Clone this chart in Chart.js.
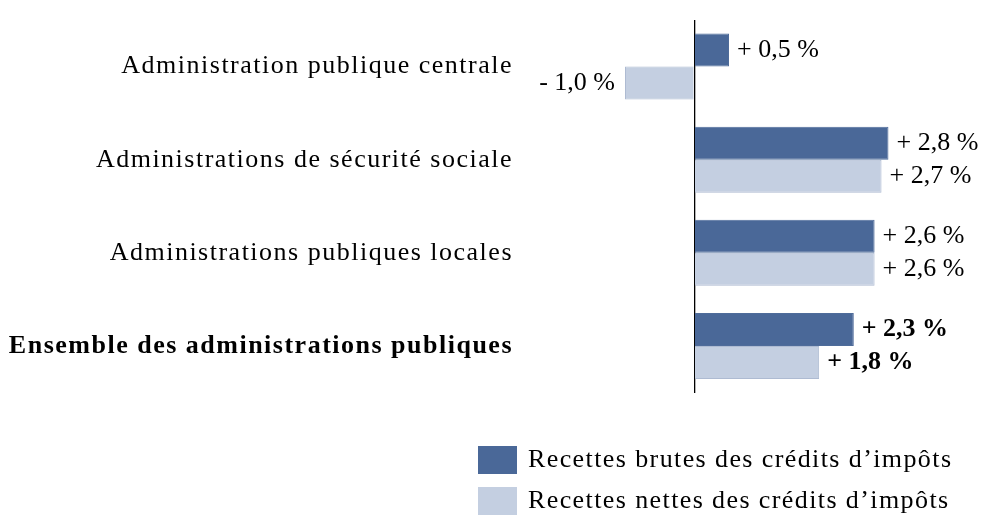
<!DOCTYPE html>
<html>
<head>
<meta charset="utf-8">
<script src="https://cdn.jsdelivr.net/npm/chart.js@4.4.1/dist/chart.umd.min.js"></script>
<style>
  html, body { margin: 0; padding: 0; background: #fff; }
  #wrap { width: 981px; height: 515px; position: relative; }
</style>
</head>
<body>
<div id="wrap"><canvas id="chart" width="981" height="515"></canvas></div>
<script>
const categories = [
  'Administration publique centrale',
  'Administrations de sécurité sociale',
  'Administrations publiques locales',
  'Ensemble des administrations publiques'
];
const brutes = [0.5, 2.8, 2.6, 2.3];
const nettes = [-1.0, 2.7, 2.6, 1.8];
const seriesNames = ['Recettes brutes des crédits d\u2019impôts', 'Recettes nettes des crédits d\u2019impôts'];
const seriesColors = ['#4a6898', '#c4cfe1'];
const seriesBorders = ['#4f6c9a', '#aebbd2'];

const FONT = "'Liberation Serif', serif";
const SIZE = 26;

const fmt = v => (v < 0 ? '- ' : '+ ') + Math.abs(v).toFixed(1).replace('.', ',') + ' %';

// wider tracking for the category labels (closer to the original Palatino)
const tracking = {
  id: 'tracking',
  beforeDraw(chart) { chart.ctx.letterSpacing = '1.5px'; }
};

// value labels next to each bar
const valueLabels = {
  id: 'valueLabels',
  afterDatasetsDraw(chart) {
    const ctx = chart.ctx;
    ctx.save();
    ctx.letterSpacing = '0px';
    ctx.fillStyle = '#000';
    ctx.textBaseline = 'middle';
    chart.data.datasets.forEach((ds, di) => {
      chart.getDatasetMeta(di).data.forEach((el, i) => {
        const v = ds.data[i];
        const bold = i === categories.length - 1;
        ctx.font = (bold ? 'bold ' : '') + SIZE + 'px ' + FONT;
        if (v < 0) {
          ctx.textAlign = 'right';
          ctx.fillText(fmt(v), el.x - 10, el.y);
        } else {
          ctx.textAlign = 'left';
          ctx.fillText(fmt(v), el.x + 8, el.y);
        }
      });
    });
    ctx.restore();
  }
};

// legend stacked under the plot, bottom right
const stackedLegend = {
  id: 'stackedLegend',
  afterDraw(chart) {
    const ctx = chart.ctx;
    ctx.save();
    ctx.letterSpacing = '1.4px';
    ctx.font = SIZE + 'px ' + FONT;
    ctx.textBaseline = 'middle';
    ctx.textAlign = 'left';
    seriesNames.forEach((name, i) => {
      const y = 446 + i * 41;
      ctx.fillStyle = seriesColors[i];
      ctx.fillRect(478, y, 39, 28);
      ctx.fillStyle = '#000';
      ctx.fillText(name, 528, y + 14);
    });
    ctx.restore();
  }
};

new Chart(document.getElementById('chart'), {
  type: 'bar',
  data: {
    labels: categories,
    datasets: [
      { label: seriesNames[0], data: brutes, backgroundColor: seriesColors[0], borderColor: seriesBorders[0], borderWidth: 1 },
      { label: seriesNames[1], data: nettes, backgroundColor: seriesColors[1], borderColor: seriesBorders[1], borderWidth: 1 }
    ]
  },
  options: {
    indexAxis: 'y',
    responsive: false,
    animation: false,
    devicePixelRatio: 1,
    categoryPercentage: 0.71,
    barPercentage: 1,
    layout: { padding: { top: 20, bottom: 122.5, right: 44, left: 0 } },
    plugins: { legend: { display: false }, tooltip: { enabled: false } },
    scales: {
      x: {
        min: -2.5,
        max: 3.5,
        ticks: { display: false, stepSize: 0.5 },
        border: { display: false },
        grid: {
          drawTicks: false,
          lineWidth: 1.3,
          color: c => (c.tick && c.tick.value === 0 ? '#000' : 'rgba(0,0,0,0)')
        }
      },
      y: {
        afterFit(scale) { scale.width = 521; },
        border: { display: false },
        grid: { display: false },
        ticks: {
          padding: 0,
          color: '#000',
          font: c => ({ family: FONT, size: SIZE, weight: c.index === categories.length - 1 ? 'bold' : 'normal' })
        }
      }
    }
  },
  plugins: [tracking, valueLabels, stackedLegend]
});
</script>
</body>
</html>
